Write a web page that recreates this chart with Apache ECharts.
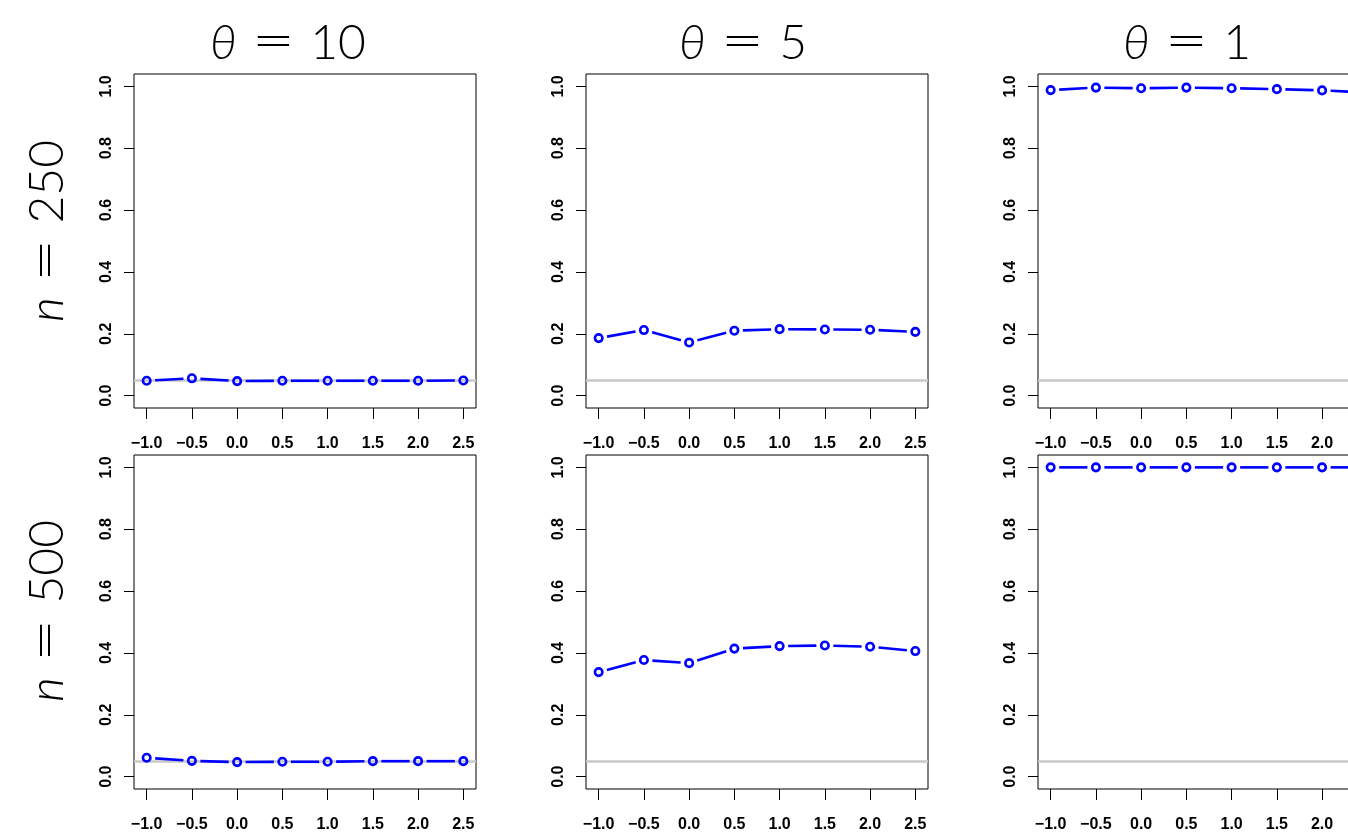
<!DOCTYPE html>
<html>
<head>
<meta charset="utf-8">
<script src="https://cdn.jsdelivr.net/npm/echarts@6/dist/echarts.min.js"></script>
<style>
html,body{margin:0;padding:0;background:#fff;}
#chart{width:1348px;height:833px;}
</style>
</head>
<body>
<div id="chart"></div>
<script>
// ---- data ----
const xVals = [-1.0, -0.5, 0.0, 0.5, 1.0, 1.5, 2.0, 2.5];
const xTickLabels = ['\u22121.0', '\u22120.5', '0.0', '0.5', '1.0', '1.5', '2.0', '2.5'];
const yTicks = [0, 0.2, 0.4, 0.6, 0.8, 1.0];
const yTickLabels = ['0.0', '0.2', '0.4', '0.6', '0.8', '1.0'];
const thetaTitles = ['10', '5', '1'];
const nLabels = ['250', '500'];
const refLevel = 0.05;

const power_n250_theta10 = [0.048, 0.056, 0.047, 0.048, 0.048, 0.048, 0.048, 0.049];
const power_n250_theta5  = [0.186, 0.212, 0.172, 0.210, 0.215, 0.214, 0.213, 0.206];
const power_n250_theta1  = [0.988, 0.996, 0.994, 0.996, 0.994, 0.991, 0.987, 0.980];
const power_n500_theta10 = [0.061, 0.051, 0.047, 0.048, 0.048, 0.050, 0.050, 0.050];
const power_n500_theta5  = [0.338, 0.377, 0.367, 0.414, 0.422, 0.424, 0.420, 0.406];
const power_n500_theta1  = [1.000, 1.000, 1.000, 1.000, 1.000, 1.000, 1.000, 1.000];

const panelValues = [
  [power_n250_theta10, power_n250_theta5, power_n250_theta1],
  [power_n500_theta10, power_n500_theta5, power_n500_theta1]
];

// ---- layout ----
const colLeft = [134, 586, 1038];
const rowTop = [74, 455];
const boxW = 342, boxH = 334;
const titleX = [288, 743, 1187];
const rowLabelY = [231, 611];

const tickFont = 'Liberation Sans, Arial, sans-serif';
const BLUE = '#0000ff';

const grids = [], xAxes = [], yAxes = [], series = [];

function segRender(params, api) {
  const p0 = api.coord([api.value(0), api.value(1)]);
  const p1 = api.coord([api.value(2), api.value(3)]);
  const dx = p1[0] - p0[0], dy = p1[1] - p0[1];
  const len = Math.hypot(dx, dy);
  const g = 8.5;
  if (len <= 2 * g) return null;
  const ux = dx / len, uy = dy / len;
  return {
    type: 'line',
    shape: { x1: p0[0] + ux * g, y1: p0[1] + uy * g, x2: p1[0] - ux * g, y2: p1[1] - uy * g },
    style: { stroke: BLUE, lineWidth: 2.6, lineCap: 'butt' }
  };
}

let gi = 0;
for (let r = 0; r < 2; r++) {
  for (let c = 0; c < 3; c++) {
    const vals = panelValues[r][c];
    grids.push({
      left: colLeft[c], top: rowTop[r], width: boxW, height: boxH,
      show: true, borderColor: '#000', borderWidth: 1, backgroundColor: 'transparent',
      containLabel: false, outerBoundsMode: 'none'
    });
    xAxes.push({
      gridIndex: gi, type: 'value', min: -1.14, max: 2.64, position: 'bottom',
      axisLine: { show: false, onZero: false },
      splitLine: { show: false },
      axisTick: { show: true, inside: false, length: 11, customValues: xVals, lineStyle: { color: '#000', width: 1 } },
      axisLabel: {
        customValues: xVals, margin: 28, color: '#000', fontSize: 16, fontWeight: 'bold', fontFamily: tickFont,
        formatter: v => { const i = xVals.findIndex(x => Math.abs(x - v) < 1e-9); return i >= 0 ? xTickLabels[i] : ''; }
      }
    });
    yAxes.push({
      gridIndex: gi, type: 'value', min: -0.04, max: 1.04, position: 'left',
      axisLine: { show: false, onZero: false },
      splitLine: { show: false },
      axisTick: { show: true, inside: false, length: 10, customValues: yTicks, lineStyle: { color: '#000', width: 1 } },
      axisLabel: {
        customValues: yTicks, margin: 19, rotate: 90, color: '#000', fontSize: 16, fontWeight: 'bold', fontFamily: tickFont,
        formatter: v => { const i = yTicks.findIndex(y => Math.abs(y - v) < 1e-9); return i >= 0 ? yTickLabels[i] : ''; }
      }
    });
    // reference level line
    series.push({
      type: 'line', xAxisIndex: gi, yAxisIndex: gi, z: 1,
      data: xVals.map((x, i) => [x, vals[i]]),
      showSymbol: false, lineStyle: { opacity: 0 }, silent: true,
      markLine: {
        z: 1, silent: true, symbol: ['none', 'none'], label: { show: false },
        lineStyle: { color: '#c8c8c8', width: 2.6, type: 'solid' },
        emphasis: { disabled: true },
        data: [{ yAxis: refLevel }]
      }
    });
    // connecting segments (gapped, like R type="b")
    series.push({
      type: 'custom', xAxisIndex: gi, yAxisIndex: gi, z: 3, clip: true,
      renderItem: segRender,
      encode: { x: [0, 2], y: [1, 3] },
      data: xVals.slice(0, -1).map((x, i) => [x, vals[i], xVals[i + 1], vals[i + 1]])
    });
    // open circles
    series.push({
      type: 'scatter', xAxisIndex: gi, yAxisIndex: gi, z: 4,
      symbol: 'circle', symbolSize: 7.5,
      itemStyle: { color: 'rgba(0,0,0,0)', borderColor: BLUE, borderWidth: 2.6, opacity: 1 },
      data: xVals.map((x, i) => [x, vals[i]])
    });
    gi++;
  }
}

const graphics = [];
for (let c = 0; c < 3; c++) {
  graphics.push({
    type: 'text', x: titleX[c], y: 44,
    style: {
      text: '{i|\u03b8}{e| = }' + thetaTitles[c],
      font: '300 48px Lato, sans-serif',
      fill: '#000', textAlign: 'center', textVerticalAlign: 'middle',
      rich: {
        i: { fontFamily: 'Lato', fontStyle: 'italic', fontSize: 48, fontWeight: 300, fill: '#000' },
        e: { fontFamily: 'DejaVu Sans', fontWeight: 200, fontSize: 50, fill: '#000' }
      }
    }
  });
}
for (let r = 0; r < 2; r++) {
  graphics.push({
    type: 'text', x: 48, y: rowLabelY[r], rotation: Math.PI / 2,
    style: {
      text: '{i|n}{e| = }' + nLabels[r],
      font: '300 48px Lato, sans-serif',
      fill: '#000', textAlign: 'center', textVerticalAlign: 'middle',
      rich: {
        i: { fontFamily: 'Lato', fontStyle: 'italic', fontWeight: 300, fontSize: 48, fill: '#000' },
        e: { fontFamily: 'DejaVu Sans', fontWeight: 200, fontSize: 50, fill: '#000' }
      }
    }
  });
}

const chart = echarts.init(document.getElementById('chart'), null, { renderer: 'canvas' });
chart.setOption({
  backgroundColor: '#fff',
  animation: false,
  grid: grids,
  xAxis: xAxes,
  yAxis: yAxes,
  series: series,
  graphic: graphics
});
</script>
</body>
</html>
